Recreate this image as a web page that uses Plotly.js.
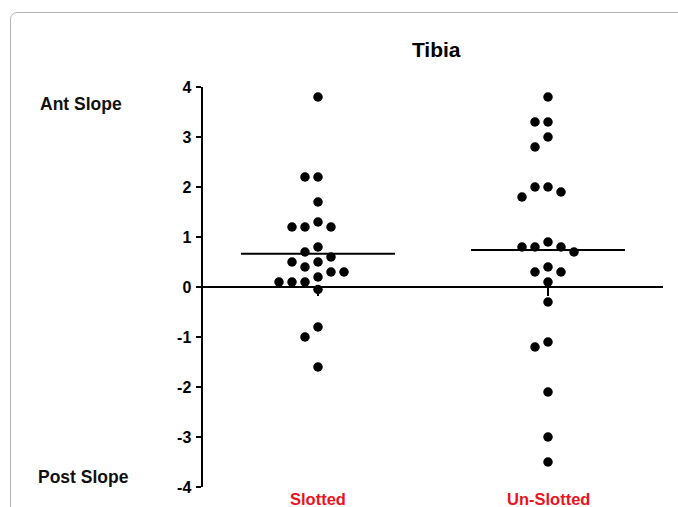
<!DOCTYPE html>
<html>
<head>
<meta charset="utf-8">
<script src="https://cdn.plot.ly/plotly-3.0.1.min.js"></script>
<style>
  html, body { margin: 0; padding: 0; background: #fff; }
  #wrap { position: relative; width: 678px; height: 507px; overflow: hidden; }
  #frame { position: absolute; left: 10px; top: 12px; width: 720px; height: 600px;
           border: 1px solid #b4b4b4; border-radius: 7px; box-sizing: border-box; }
  #chart { position: absolute; left: 0; top: 0; width: 678px; height: 507px; }
</style>
</head>
<body>
<div id="wrap">
  <div id="frame"></div>
  <div id="chart"></div>
</div>
<script>
// ---- data ----
const categories = ["Slotted", "Un-Slotted"];
const slotted = [3.8, 2.2, 2.2, 1.7, 1.3, 1.2, 1.2, 1.2, 0.8, 0.7, 0.6, 0.5, 0.5,
                 0.4, 0.3, 0.3, 0.2, 0.1, 0.1, 0.1, -0.05, -0.8, -1.0, -1.6];
const unslotted = [3.8, 3.3, 3.3, 3.0, 2.8, 2.0, 2.0, 1.9, 1.8, 0.9, 0.8, 0.8, 0.8,
                   0.7, 0.4, 0.3, 0.3, 0.1, -0.3, -1.1, -1.2, -2.1, -3.0, -3.5];
const yTickVals = [-4, -3, -2, -1, 0, 1, 2, 3, 4];
const yTickText = ["-4", "-3", "-2", "-1", "0", "1", "2", "3", "4"];
const title = "Tibia";
const upperLabel = "Ant Slope";
const lowerLabel = "Post Slope";

// ---- layout constants ----
const W = 678, H = 507;
const M = { l: 203, r: 15, t: 87, b: 20 };
const plotW = W - M.l - M.r, plotH = H - M.t - M.b;
const xRange = [0.5, 2.5], yRange = [-4, 4];
const pxPerX = plotW / (xRange[1] - xRange[0]);
const pxPerY = plotH / (yRange[1] - yRange[0]);
const dotStep = 13;      // horizontal spacing between swarm columns (px)
const minDist = 10.5;    // min distance between dot centres (px)

// simple deterministic beeswarm: place each value at the nearest free column
function swarm(values, centre) {
  const placed = [];
  const xs = [];
  values.forEach(v => {
    const py = v * pxPerY;
    const order = [0, -1, 1, -2, 2, -3, 3, -4, 4];
    for (const k of order) {
      const px = k * dotStep;
      const ok = placed.every(p => Math.hypot(p[0] - px, p[1] - py) >= minDist);
      if (ok) { placed.push([px, py]); xs.push(centre + px / pxPerX); break; }
    }
  });
  return xs;
}

const groups = [slotted, unslotted];
const traces = [];
const mean = a => a.reduce((s, v) => s + v, 0) / a.length;
const halfLine = 77 / pxPerX;

groups.forEach((vals, i) => {
  const c = i + 1;
  traces.push({
    type: "scatter", mode: "markers",
    x: swarm(vals, c), y: vals,
    marker: { color: "#000", size: 9.5 },
    hoverinfo: "y", showlegend: false
  });
  const m = mean(vals);
  traces.push({
    type: "scatter", mode: "lines",
    x: [c - halfLine, c + halfLine], y: [m, m],
    line: { color: "#000", width: 2 },
    hoverinfo: "skip", showlegend: false
  });
});

const font = "Liberation Sans, Arial, Helvetica, sans-serif";

const layout = {
  width: W, height: H,
  margin: M,
  paper_bgcolor: "rgba(0,0,0,0)",
  plot_bgcolor: "rgba(0,0,0,0)",
  title: {
    text: "<b>" + title + "</b>",
    font: { family: font, size: 21, color: "#000" },
    x: 0.507, xref: "paper", xanchor: "center",
    y: 1 - 50 / H, yref: "container", yanchor: "middle"
  },
  xaxis: {
    range: xRange, showgrid: false, zeroline: false, showline: false,
    anchor: "free", position: 0.5,
    tickvals: [1, 2], ticks: "outside", ticklen: 8, tickwidth: 2,
    tickcolor: "#000", showticklabels: false, fixedrange: true
  },
  yaxis: {
    range: yRange, showgrid: false,
    zeroline: true, zerolinecolor: "#000", zerolinewidth: 2.5,
    showline: true, linecolor: "#000", linewidth: 2.5,
    tickvals: yTickVals, ticktext: yTickText,
    ticks: "outside", ticklen: 5, tickwidth: 2,
    tickcolor: "#000", ticklabelstandoff: 1,
    tickfont: { family: font, size: 16, color: "#000", weight: "bold" },
    fixedrange: true
  },
  annotations: [
    ...categories.map((c, i) => ({
      text: "<b>" + c + "</b>", x: i + 1, xref: "x", y: -4, yref: "y",
      yanchor: "top", yshift: -1, showarrow: false,
      font: { family: font, size: 16.5, color: "#e8141e" }
    })),
    { text: "<b>" + upperLabel + "</b>", xref: "paper", x: (38 - M.l) / plotW,
      xanchor: "left", yref: "y", y: 3.66, yanchor: "middle", showarrow: false,
      font: { family: font, size: 17.5, color: "#111" } },
    { text: "<b>" + lowerLabel + "</b>", xref: "paper", x: (36 - M.l) / plotW,
      xanchor: "left", yref: "y", y: -3.8, yanchor: "middle", showarrow: false,
      font: { family: font, size: 17.5, color: "#111" } }
  ]
};

Plotly.newPlot("chart", traces, layout, { displayModeBar: false, staticPlot: true });
</script>
</body>
</html>
